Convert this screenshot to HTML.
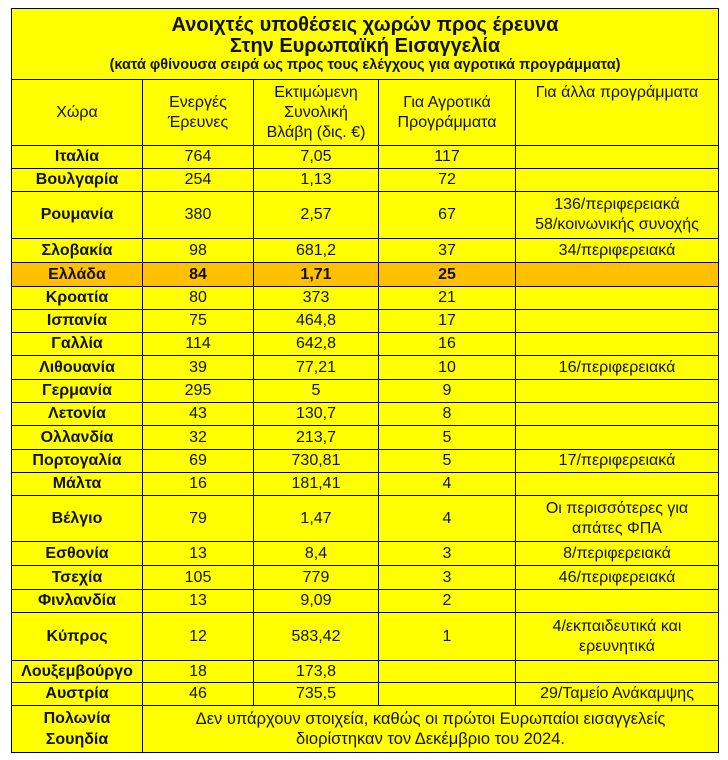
<!DOCTYPE html>
<html><head><meta charset="utf-8"><style>
body{margin:0;background:#fff;width:728px;height:760px;overflow:hidden}
table{position:absolute;left:11px;top:8px;border-collapse:collapse;table-layout:fixed;width:707px;background:#ffff00;font-family:"Liberation Sans",sans-serif;font-size:16px;color:#111}
td{border:1.5px solid #000;text-align:center;padding:0;line-height:20px}
td.c{font-weight:bold}
tr.g td{background:#ffc000;font-weight:bold}
</style></head><body>
<table>
<colgroup><col style="width:131px"><col style="width:111px"><col style="width:125px"><col style="width:137px"><col style="width:203px"></colgroup>
<tr style="height:71px"><td colspan="5" style="line-height:21px"><div style="font-weight:bold;font-size:20px">Ανοιχτές υποθέσεις χωρών προς έρευνα</div><div style="font-weight:bold;font-size:20px">Στην Ευρωπαϊκή Εισαγγελία</div><div style="font-weight:bold;font-size:14.5px;line-height:17px">(κατά φθίνουσα σειρά ως προς τους ελέγχους για αγροτικά προγράμματα)</div></td></tr>
<tr style="height:66px"><td>Χώρα</td><td>Ενεργές<br>Έρευνες</td><td>Εκτιμώμενη<br>Συνολική<br>Βλάβη (δις. €)</td><td>Για Αγροτικά<br>Προγράμματα</td><td style="vertical-align:top;padding-top:3px">Για άλλα προγράμματα</td></tr>
<tr style="height:23px"><td class="c">Ιταλία</td><td>764</td><td>7,05</td><td>117</td><td></td></tr>
<tr style="height:23px"><td class="c">Βουλγαρία</td><td>254</td><td>1,13</td><td>72</td><td></td></tr>
<tr style="height:47px"><td class="c">Ρουμανία</td><td>380</td><td>2,57</td><td>67</td><td>136/περιφερειακά<br>58/κοινωνικής συνοχής</td></tr>
<tr style="height:24px"><td class="c">Σλοβακία</td><td>98</td><td>681,2</td><td>37</td><td>34/περιφερειακά</td></tr>
<tr class="g" style="height:24px"><td>Ελλάδα</td><td>84</td><td>1,71</td><td>25</td><td></td></tr>
<tr style="height:23px"><td class="c">Κροατία</td><td>80</td><td>373</td><td>21</td><td></td></tr>
<tr style="height:23px"><td class="c">Ισπανία</td><td>75</td><td>464,8</td><td>17</td><td></td></tr>
<tr style="height:23px"><td class="c">Γαλλία</td><td>114</td><td>642,8</td><td>16</td><td></td></tr>
<tr style="height:24px"><td class="c">Λιθουανία</td><td>39</td><td>77,21</td><td>10</td><td>16/περιφερειακά</td></tr>
<tr style="height:23px"><td class="c">Γερμανία</td><td>295</td><td>5</td><td>9</td><td></td></tr>
<tr style="height:23px"><td class="c">Λετονία</td><td>43</td><td>130,7</td><td>8</td><td></td></tr>
<tr style="height:24px"><td class="c">Ολλανδία</td><td>32</td><td>213,7</td><td>5</td><td></td></tr>
<tr style="height:23px"><td class="c">Πορτογαλία</td><td>69</td><td>730,81</td><td>5</td><td>17/περιφερειακά</td></tr>
<tr style="height:23px"><td class="c">Μάλτα</td><td>16</td><td>181,41</td><td>4</td><td></td></tr>
<tr style="height:46px"><td class="c">Βέλγιο</td><td>79</td><td>1,47</td><td>4</td><td>Οι περισσότερες για<br>απάτες ΦΠΑ</td></tr>
<tr style="height:24px"><td class="c">Εσθονία</td><td>13</td><td>8,4</td><td>3</td><td>8/περιφερειακά</td></tr>
<tr style="height:24px"><td class="c">Τσεχία</td><td>105</td><td>779</td><td>3</td><td>46/περιφερειακά</td></tr>
<tr style="height:23px"><td class="c">Φινλανδία</td><td>13</td><td>9,09</td><td>2</td><td></td></tr>
<tr style="height:48px"><td class="c">Κύπρος</td><td>12</td><td>583,42</td><td>1</td><td>4/εκπαιδευτικά και<br>ερευνητικά</td></tr>
<tr style="height:22px"><td class="c">Λουξεμβούργο</td><td>18</td><td>173,8</td><td></td><td></td></tr>
<tr style="height:23px"><td class="c">Αυστρία</td><td>46</td><td>735,5</td><td></td><td>29/Ταμείο Ανάκαμψης</td></tr>
<tr style="height:47px"><td class="c" style="line-height:21px">Πολωνία<br>Σουηδία</td><td colspan="4" style="font-size:16.5px;line-height:20px">Δεν υπάρχουν στοιχεία, καθώς οι πρώτοι Ευρωπαίοι εισαγγελείς<br>διορίστηκαν τον Δεκέμβριο του 2024.</td></tr>
</table>
</body></html>
